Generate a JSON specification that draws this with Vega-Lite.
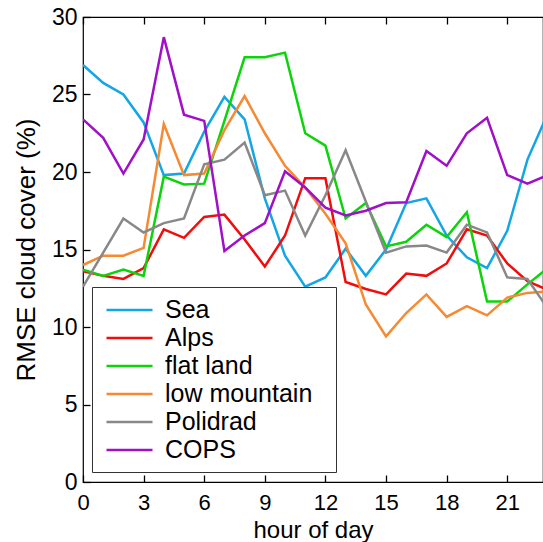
{
  "$schema": "https://vega.github.io/schema/vega-lite/v6.json",
  "width": 460,
  "height": 465,
  "autosize": {"type": "none"},
  "padding": {"left": 83, "top": 17, "right": 0, "bottom": 60},
  "config": {
    "view": {"stroke": "black", "strokeWidth": 1.2},
    "font": "Liberation Sans",
    "axis": {"domain": false, "grid": false, "ticks": true, "tickSize": -7, "tickWidth": 1.3, "tickColor": "black", "labelColor": "black", "titleColor": "black", "titleFontWeight": "normal"}
  },
  "datasets": {
    "rmse": [
      {"h":0,"s":"Sea","v":26.9},{"h":1,"s":"Sea","v":25.75},{"h":2,"s":"Sea","v":25.0},{"h":3,"s":"Sea","v":23.2},{"h":4,"s":"Sea","v":19.8},{"h":5,"s":"Sea","v":19.9},{"h":6,"s":"Sea","v":22.6},{"h":7,"s":"Sea","v":24.85},{"h":8,"s":"Sea","v":23.4},{"h":9,"s":"Sea","v":18.3},{"h":10,"s":"Sea","v":14.6},{"h":11,"s":"Sea","v":12.6},{"h":12,"s":"Sea","v":13.2},{"h":13,"s":"Sea","v":15.05},{"h":14,"s":"Sea","v":13.3},{"h":15,"s":"Sea","v":15.0},{"h":16,"s":"Sea","v":18.0},{"h":17,"s":"Sea","v":18.3},{"h":18,"s":"Sea","v":15.9},{"h":19,"s":"Sea","v":14.5},{"h":20,"s":"Sea","v":13.8},{"h":21,"s":"Sea","v":16.2},{"h":22,"s":"Sea","v":20.8},{"h":23,"s":"Sea","v":23.75},
      {"h":0,"s":"Alps","v":13.6},{"h":1,"s":"Alps","v":13.3},{"h":2,"s":"Alps","v":13.1},{"h":3,"s":"Alps","v":13.8},{"h":4,"s":"Alps","v":16.3},{"h":5,"s":"Alps","v":15.75},{"h":6,"s":"Alps","v":17.1},{"h":7,"s":"Alps","v":17.25},{"h":8,"s":"Alps","v":15.65},{"h":9,"s":"Alps","v":13.9},{"h":10,"s":"Alps","v":15.9},{"h":11,"s":"Alps","v":19.6},{"h":12,"s":"Alps","v":19.6},{"h":13,"s":"Alps","v":12.9},{"h":14,"s":"Alps","v":12.45},{"h":15,"s":"Alps","v":12.1},{"h":16,"s":"Alps","v":13.45},{"h":17,"s":"Alps","v":13.3},{"h":18,"s":"Alps","v":14.1},{"h":19,"s":"Alps","v":16.3},{"h":20,"s":"Alps","v":15.9},{"h":21,"s":"Alps","v":14.1},{"h":22,"s":"Alps","v":12.95},{"h":23,"s":"Alps","v":12.4},
      {"h":0,"s":"flat land","v":13.7},{"h":1,"s":"flat land","v":13.3},{"h":2,"s":"flat land","v":13.7},{"h":3,"s":"flat land","v":13.3},{"h":4,"s":"flat land","v":19.7},{"h":5,"s":"flat land","v":19.2},{"h":6,"s":"flat land","v":19.25},{"h":7,"s":"flat land","v":23.3},{"h":8,"s":"flat land","v":27.4},{"h":9,"s":"flat land","v":27.4},{"h":10,"s":"flat land","v":27.7},{"h":11,"s":"flat land","v":22.5},{"h":12,"s":"flat land","v":21.7},{"h":13,"s":"flat land","v":17.0},{"h":14,"s":"flat land","v":18.0},{"h":15,"s":"flat land","v":15.2},{"h":16,"s":"flat land","v":15.5},{"h":17,"s":"flat land","v":16.6},{"h":18,"s":"flat land","v":15.8},{"h":19,"s":"flat land","v":17.4},{"h":20,"s":"flat land","v":11.65},{"h":21,"s":"flat land","v":11.65},{"h":22,"s":"flat land","v":12.75},{"h":23,"s":"flat land","v":13.8},
      {"h":0,"s":"low mountain","v":14.0},{"h":1,"s":"low mountain","v":14.6},{"h":2,"s":"low mountain","v":14.6},{"h":3,"s":"low mountain","v":15.1},{"h":4,"s":"low mountain","v":23.1},{"h":5,"s":"low mountain","v":19.8},{"h":6,"s":"low mountain","v":19.9},{"h":7,"s":"low mountain","v":22.7},{"h":8,"s":"low mountain","v":24.9},{"h":9,"s":"low mountain","v":22.5},{"h":10,"s":"low mountain","v":20.4},{"h":11,"s":"low mountain","v":19.0},{"h":12,"s":"low mountain","v":17.3},{"h":13,"s":"low mountain","v":15.4},{"h":14,"s":"low mountain","v":11.45},{"h":15,"s":"low mountain","v":9.4},{"h":16,"s":"low mountain","v":10.9},{"h":17,"s":"low mountain","v":12.1},{"h":18,"s":"low mountain","v":10.65},{"h":19,"s":"low mountain","v":11.35},{"h":20,"s":"low mountain","v":10.75},{"h":21,"s":"low mountain","v":11.9},{"h":22,"s":"low mountain","v":12.2},{"h":23,"s":"low mountain","v":12.3},
      {"h":0,"s":"Polidrad","v":12.6},{"h":1,"s":"Polidrad","v":14.8},{"h":2,"s":"Polidrad","v":17.0},{"h":3,"s":"Polidrad","v":16.1},{"h":4,"s":"Polidrad","v":16.7},{"h":5,"s":"Polidrad","v":17.0},{"h":6,"s":"Polidrad","v":20.5},{"h":7,"s":"Polidrad","v":20.8},{"h":8,"s":"Polidrad","v":21.9},{"h":9,"s":"Polidrad","v":18.5},{"h":10,"s":"Polidrad","v":18.8},{"h":11,"s":"Polidrad","v":15.9},{"h":12,"s":"Polidrad","v":18.5},{"h":13,"s":"Polidrad","v":21.4},{"h":14,"s":"Polidrad","v":18.1},{"h":15,"s":"Polidrad","v":14.8},{"h":16,"s":"Polidrad","v":15.2},{"h":17,"s":"Polidrad","v":15.25},{"h":18,"s":"Polidrad","v":14.8},{"h":19,"s":"Polidrad","v":16.6},{"h":20,"s":"Polidrad","v":16.1},{"h":21,"s":"Polidrad","v":13.2},{"h":22,"s":"Polidrad","v":13.1},{"h":23,"s":"Polidrad","v":11.2},
      {"h":0,"s":"COPS","v":23.4},{"h":1,"s":"COPS","v":22.2},{"h":2,"s":"COPS","v":19.9},{"h":3,"s":"COPS","v":22.1},{"h":4,"s":"COPS","v":28.7},{"h":5,"s":"COPS","v":23.7},{"h":6,"s":"COPS","v":23.3},{"h":7,"s":"COPS","v":14.9},{"h":8,"s":"COPS","v":15.9},{"h":9,"s":"COPS","v":16.7},{"h":10,"s":"COPS","v":20.05},{"h":11,"s":"COPS","v":19.0},{"h":12,"s":"COPS","v":17.7},{"h":13,"s":"COPS","v":17.2},{"h":14,"s":"COPS","v":17.5},{"h":15,"s":"COPS","v":18.0},{"h":16,"s":"COPS","v":18.05},{"h":17,"s":"COPS","v":21.35},{"h":18,"s":"COPS","v":20.4},{"h":19,"s":"COPS","v":22.5},{"h":20,"s":"COPS","v":23.5},{"h":21,"s":"COPS","v":19.8},{"h":22,"s":"COPS","v":19.25},{"h":23,"s":"COPS","v":19.8}
    ]
  },
  "data": {"name": "rmse"},
  "layer": [
    {
      "mark": {"type": "line", "strokeWidth": 2.5, "clip": true},
      "encoding": {
        "x": {
          "field": "h", "type": "quantitative",
          "scale": {"domain": [0, 22.77], "nice": false, "zero": false},
          "axis": {"orient": "bottom", "values": [0,3,6,9,12,15,18,21], "labelFontSize": 22, "labelPadding": 17, "labelFlush": false, "title": "hour of day", "titleFontSize": 24, "titleBaseline": "alphabetic", "titleY": 55}
        },
        "y": {
          "field": "v", "type": "quantitative",
          "scale": {"domain": [0, 30], "nice": false},
          "axis": {"orient": "left", "values": [0,5,10,15,20,25,30], "labelFontSize": 23, "labelPadding": 13, "labelFlush": false, "title": "RMSE cloud cover (%)", "titleFontSize": 26, "titlePadding": 12}
        },
        "color": {
          "field": "s", "type": "nominal",
          "scale": {
            "domain": ["Sea", "Alps", "flat land", "low mountain", "Polidrad", "COPS"],
            "range": ["#13a6e6", "#f20d0d", "#0bd40b", "#f58a32", "#888888", "#a010c8"]
          },
          "legend": {
            "title": null,
            "orient": "none",
            "legendX": 9,
            "legendY": 270,
            "symbolType": "M-1,0H2.68",
            "symbolSize": 625,
            "symbolStrokeWidth": 2.5,
            "labelFontSize": 25,
            "labelColor": "black",
            "labelOffset": 32,
            "labelExpr": "datum.label + '\u00a0\u00a0\u200b'",
            "rowPadding": 1,
            "padding": 9,
            "symbolOffset": 4,
            "strokeColor": "#333333",
            "fillColor": "white",
            "labelLimit": 400
          }
        }
      }
    },
    {
      "mark": {"type": "line", "opacity": 0, "clip": true},
      "encoding": {
        "x": {
          "field": "h", "type": "quantitative",
          "scale": {"domain": [0, 22.77], "nice": false, "zero": false},
          "axis": {"orient": "top", "values": [0,3,6,9,12,15,18,21], "labels": false, "title": null}
        },
        "y": {"field": "v", "type": "quantitative", "scale": {"domain": [0, 30], "nice": false}},
        "detail": {"field": "s"}
      }
    }
  ],
  "resolve": {"axis": {"x": "independent"}}
}
